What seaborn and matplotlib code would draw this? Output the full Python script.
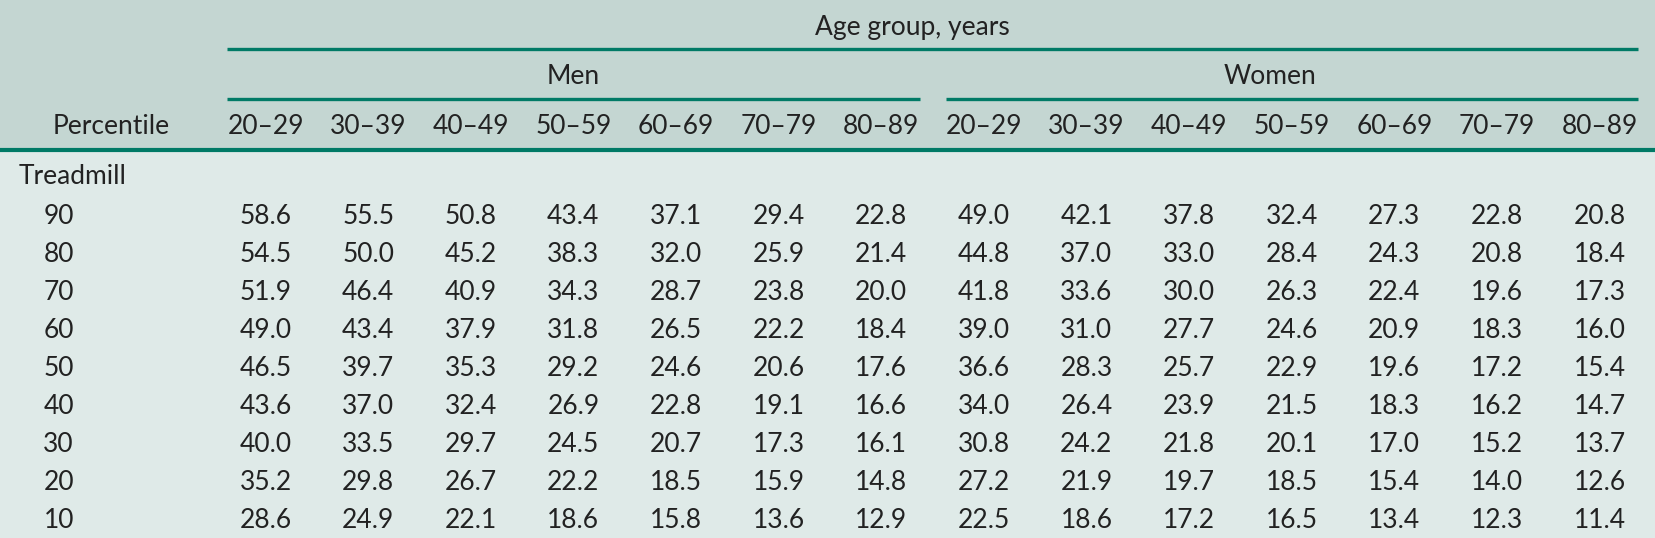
import numpy as np
import pandas as pd
import matplotlib
matplotlib.use("Agg")
import matplotlib.pyplot as plt
import matplotlib.transforms as mtransforms
from matplotlib.colors import ListedColormap
import seaborn as sns

# dados da tabela (VO2 por percentil, esteira)
faixas = ['20\u201329', '30\u201339', '40\u201349', '50\u201359', '60\u201369', '70\u201379', '80\u201389']
percentis = ['90', '80', '70', '60', '50', '40', '30', '20', '10']

homens = [
    [58.6, 55.5, 50.8, 43.4, 37.1, 29.4, 22.8],
    [54.5, 50.0, 45.2, 38.3, 32.0, 25.9, 21.4],
    [51.9, 46.4, 40.9, 34.3, 28.7, 23.8, 20.0],
    [49.0, 43.4, 37.9, 31.8, 26.5, 22.2, 18.4],
    [46.5, 39.7, 35.3, 29.2, 24.6, 20.6, 17.6],
    [43.6, 37.0, 32.4, 26.9, 22.8, 19.1, 16.6],
    [40.0, 33.5, 29.7, 24.5, 20.7, 17.3, 16.1],
    [35.2, 29.8, 26.7, 22.2, 18.5, 15.9, 14.8],
    [28.6, 24.9, 22.1, 18.6, 15.8, 13.6, 12.9],
]
mulheres = [
    [49.0, 42.1, 37.8, 32.4, 27.3, 22.8, 20.8],
    [44.8, 37.0, 33.0, 28.4, 24.3, 20.8, 18.4],
    [41.8, 33.6, 30.0, 26.3, 22.4, 19.6, 17.3],
    [39.0, 31.0, 27.7, 24.6, 20.9, 18.3, 16.0],
    [36.6, 28.3, 25.7, 22.9, 19.6, 17.2, 15.4],
    [34.0, 26.4, 23.9, 21.5, 18.3, 16.2, 14.7],
    [30.8, 24.2, 21.8, 20.1, 17.0, 15.2, 13.7],
    [27.2, 21.9, 19.7, 18.5, 15.4, 14.0, 12.6],
    [22.5, 18.6, 17.2, 16.5, 13.4, 12.3, 11.4],
]

# cores
cor_cabecalho = '#c4d6d2'
cor_corpo = '#dfeae8'
cor_linha = '#007a66'
cor_texto = '#222222'

plt.rcParams['font.family'] = ['Lato', 'DejaVu Sans']
tam = 19
peso = 'normal'

# juntando homens e mulheres numa tabela so
colunas = [('M', f) for f in faixas] + [('W', f) for f in faixas]
tabela = pd.DataFrame(np.hstack([np.array(homens), np.array(mulheres)]),
                      index=percentis, columns=pd.MultiIndex.from_tuples(colunas))

W, H = 1655, 538
fig = plt.figure(figsize=(W / 100, H / 100), dpi=100)

# eixo de fundo em pixels
fundo = fig.add_axes([0, 0, 1, 1])
fundo.set_xlim(0, W)
fundo.set_ylim(H, 0)
fundo.axis('off')
fundo.axhspan(0, 152, color=cor_cabecalho, lw=0)
fundo.axhspan(152, H, color=cor_corpo, lw=0)

# linhas verdes do cabecalho
fundo.plot([227, 1638], [49, 49], color=cor_linha, lw=2.4, solid_capstyle='butt')
fundo.plot([227, 920], [99, 99], color=cor_linha, lw=2.4, solid_capstyle='butt')
fundo.plot([946, 1638], [99, 99], color=cor_linha, lw=2.4, solid_capstyle='butt')
fundo.plot([0, W], [150, 150], color=cor_linha, lw=3.0, solid_capstyle='butt')

fundo.text(912, 27, 'Age group, years', ha='center', va='center', fontsize=tam,
           color=cor_texto, fontweight=peso)
fundo.text(573, 76, 'Men', ha='center', va='center', fontsize=tam, color=cor_texto, fontweight=peso)
fundo.text(1270, 76, 'Women', ha='center', va='center', fontsize=tam, color=cor_texto, fontweight=peso)
fundo.text(111, 126, 'Percentile', ha='center', va='center', fontsize=tam, color=cor_texto, fontweight=peso)
fundo.text(19, 177, 'Treadmill', ha='left', va='center', fontsize=tam, color=cor_texto, fontweight=peso)

# area dos numeros (heatmap com uma cor so)
x0, x1 = 214.2, 1650.8
y0, y1 = 197, 540
ax = fig.add_axes([x0 / W, 1 - y1 / H, (x1 - x0) / W, (y1 - y0) / H])
sns.heatmap(tabela, ax=ax, cmap=ListedColormap([cor_corpo]), cbar=False,
            annot=True, fmt='.1f',
            annot_kws={'fontsize': tam, 'color': cor_texto, 'fontweight': peso})
ax.set_xticks([])
ax.set_yticks([])
ax.set_xlabel('')
ax.set_ylabel('')

# rotulos das faixas e dos percentis usando a escala do heatmap
tr_x = mtransforms.blended_transform_factory(ax.transData, fundo.transData)
for i, (_, faixa) in enumerate(colunas):
    fundo.text(i + 0.5, 127, faixa, transform=tr_x, ha='center', va='center',
               fontsize=tam, color=cor_texto, fontweight=peso)

tr_y = mtransforms.blended_transform_factory(fundo.transData, ax.transData)
for j, p in enumerate(percentis):
    fundo.text(74, j + 0.5, p, transform=tr_y, ha='right', va='center',
               fontsize=tam, color=cor_texto, fontweight=peso)

fig.savefig('out.png', dpi=100)
